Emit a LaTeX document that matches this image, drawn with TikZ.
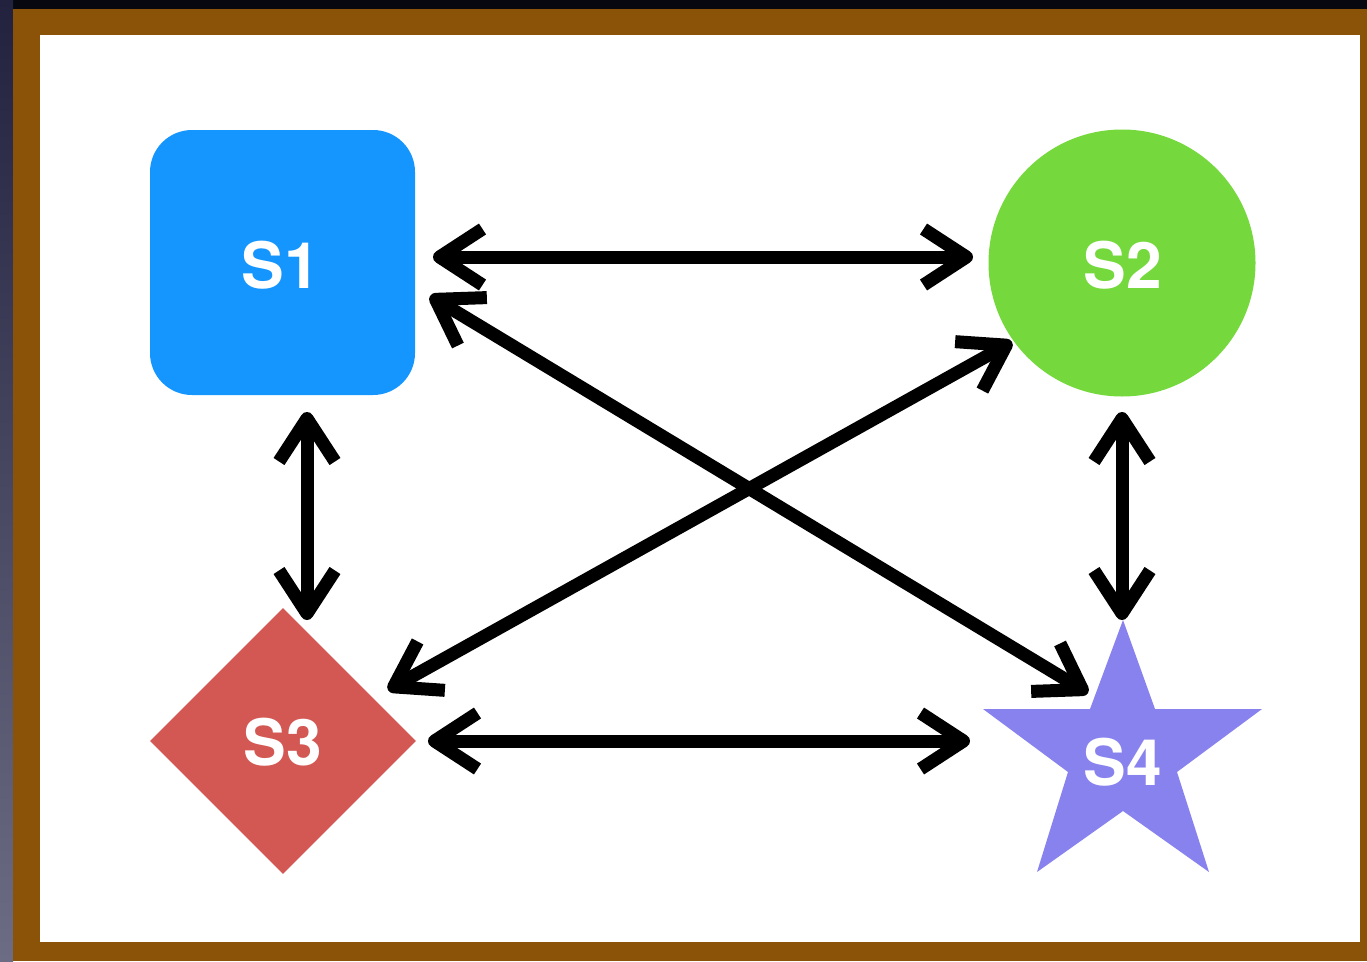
\documentclass[tikz,border=0pt]{standalone}
\usepackage{fontspec}
\setmainfont{TeX Gyre Heros}
\usetikzlibrary{arrows.meta,shapes.geometric}
\definecolor{frame}{HTML}{8A5308}
\definecolor{navy}{HTML}{07070F}
\definecolor{navyA}{HTML}{22223F}
\definecolor{navyB}{HTML}{6C6C84}
\definecolor{sblue}{HTML}{1596FF}
\definecolor{sgreen}{HTML}{75D93D}
\definecolor{sred}{HTML}{D35752}
\definecolor{spurple}{HTML}{8882EE}
\tikzset{
  lbl/.style={text=white, font=\fontsize{64}{64}\selectfont\bfseries, inner sep=0pt},
  tipb/.tip={Straight Barb[length=43pt,width=56pt,line join=round]},
  arr/.style={line width=13pt, black, tipb-tipb},
}
\begin{document}
\begin{tikzpicture}[x=1pt,y=-1pt]
\useasboundingbox (0,0) rectangle (1367,961);
% backdrop
\fill[navy] (0,0) rectangle (1367,961);
\shade[top color=navyA, bottom color=navyB] (0,0) rectangle (13,961);
\fill[frame] (13,9) rectangle (1367,961);
\fill[white] (40,35) rectangle (1360,942);
% shapes
\node[fill=sblue, rectangle, rounded corners=42pt, minimum width=265pt, minimum height=265pt, inner sep=0pt] (s1box) at (282.5,262.5) {};
\node[lbl] (s1) at (281,265) {S1};
\node[fill=sgreen, circle, minimum size=267pt, inner sep=0pt] (s2box) at (1122,263) {};
\node[lbl] (s2) at (1123,265) {S2};
\node[fill=sred, diamond, minimum width=266pt, minimum height=266pt, inner sep=0pt] (s3box) at (283,741) {};
\node[lbl] (s3) at (283,742) {S3};
\fill[spurple] (1123,620) -- (1155,709) -- (1262,709) -- (1177,772) -- (1209,872)
  -- (1123,811) -- (1037,872) -- (1068,772) -- (983,709) -- (1090,709) -- cycle;
\node[lbl] (s4) at (1123,762) {S4};
% connector end points
\coordinate (a12) at (433,257);
\coordinate (a21) at (973,257);
\coordinate (a34) at (428,741);
\coordinate (a43) at (970,741);
\coordinate (a13) at (307,412);
\coordinate (a31) at (307,620);
\coordinate (a24) at (1122,412);
\coordinate (a42) at (1122,620);
\coordinate (a14) at (430,296);
\coordinate (a41) at (1088,693);
\coordinate (a23) at (1012,342);
\coordinate (a32) at (388,690);
% connectors
\draw[arr] (a12) -- (a21);
\draw[arr] (a34) -- (a43);
\draw[arr] (a13) -- (a31);
\draw[arr] (a24) -- (a42);
\draw[arr] (a14) -- (a41);
\draw[arr] (a23) -- (a32);
\end{tikzpicture}
\end{document}
